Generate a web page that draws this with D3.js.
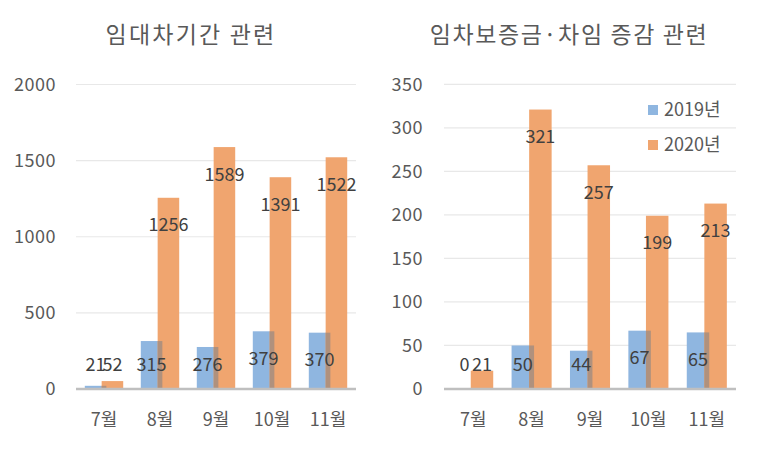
<!DOCTYPE html>
<html><head><meta charset="utf-8">
<script src="https://cdn.jsdelivr.net/npm/d3@7"></script>
<style>
body{margin:0;background:#fff;}
svg{display:block;font-family:"Noto Sans CJK KR","Noto Sans",sans-serif;}
</style></head>
<body>
<svg id="c" width="758" height="449"></svg>
<script>
const months = ["7월","8월","9월","10월","11월"];
const seriesNames = ["2019년","2020년"];
const leftTitle = "임대차기간 관련";
const leftS2019 = [21,315,276,379,370];
const leftS2020 = [52,1256,1589,1391,1522];
const leftTicks = [0,500,1000,1500,2000];
const rightTitle = "임차보증금·차임 증감 관련";
const rightS2019 = [0,50,44,67,65];
const rightS2020 = [21,321,257,199,213];
const rightTicks = [0,50,100,150,200,250,300,350];

const colors = ["#8fb6e0","#f0a56f"];
const overlapColor = "#b0917d";
const svg = d3.select("#c");

function panel(cfg){
  const g = svg.append("g");
  const x = d3.scaleBand().domain(months).range([cfg.x0,cfg.x1]).padding(0);
  const y = d3.scaleLinear().domain([0,cfg.max]).range([cfg.y0,cfg.y1]);
  g.selectAll(".grid").data(cfg.ticks.filter(t=>t>0)).join("line")
    .attr("x1",cfg.x0).attr("x2",cfg.x1)
    .attr("y1",d=>y(d)).attr("y2",d=>y(d))
    .attr("stroke","#e8e8e8").attr("stroke-width",1.2);
  g.selectAll(".tl").data(cfg.ticks).join("text")
    .attr("x",cfg.tickX).attr("y",d=>y(d)).attr("dy","0.36em")
    .attr("text-anchor","end").attr("font-size",18).attr("fill","#595959")
    .attr("letter-spacing",0.5)
    .text(d=>d);
  const step = x.step();
  const bw = step*0.385, ov = step*0.084;
  const groupW = 2*bw - ov;
  const bx = (m,i)=> x(m)+step/2 - groupW/2 + i*(bw-ov);
  const data = [cfg.s2019, cfg.s2020];
  data.forEach((arr,i)=>{
    g.selectAll(".b"+i).data(arr.map((v,k)=>({v,m:months[k]}))).join("rect")
      .attr("x",d=>bx(d.m,i)).attr("width",bw)
      .attr("y",d=>y(d.v)).attr("height",d=>y(0)-y(d.v))
      .attr("fill",colors[i]);
  });
  g.selectAll(".ov").data(months.map((m,k)=>({m,v:Math.min(cfg.s2019[k],cfg.s2020[k])}))).join("rect")
    .attr("x",d=>bx(d.m,1)).attr("width",ov)
    .attr("y",d=>y(d.v)).attr("height",d=>y(0)-y(d.v))
    .attr("fill",overlapColor);
  g.append("line").attr("x1",cfg.x0).attr("x2",cfg.x1)
    .attr("y1",y(0)).attr("y2",y(0)).attr("stroke","#bfbfbf").attr("stroke-width",2.6);
  data.forEach((arr,i)=>{
    g.selectAll(".l"+i).data(arr.map((v,k)=>({v,m:months[k]}))).join("text")
      .attr("x",d=>bx(d.m,i)+bw/2)
      .attr("y",d=>Math.min(y(d.v)+27, 365))
      .attr("dy","0.36em").attr("text-anchor","middle")
      .attr("font-size",18).attr("fill","#404040")
      .text(d=>d.v);
  });
  g.selectAll(".cl").data(months).join("text")
    .attr("x",d=>x(d)+step/2).attr("y",420).attr("dy","0.36em")
    .attr("text-anchor","middle").attr("font-size",18).attr("fill","#595959")
    .text(d=>d);
  g.append("text").attr("x",cfg.titleX).attr("y",35).attr("dy","0.36em")
    .attr("text-anchor","middle").attr("font-size",23).attr("fill","#595959")
    .attr("letter-spacing",cfg.ls)
    .text(cfg.title);
  return {x,y};
}

panel({x0:76,x1:356,y0:389,y1:84.5,max:2000,ticks:leftTicks,tickX:56,
  s2019:leftS2019,s2020:leftS2020,title:leftTitle,titleX:191,ls:2.2});
panel({x0:444,x1:736,y0:389,y1:84.3,max:350,ticks:rightTicks,tickX:423,
  s2019:rightS2019,s2020:rightS2020,title:rightTitle,titleX:569,ls:1.6});

const leg = svg.append("g");
seriesNames.forEach((n,i)=>{
  const cy = 110 + i*35;
  leg.append("rect").attr("x",648).attr("y",cy-5).attr("width",10).attr("height",10).attr("fill",colors[i]);
  leg.append("text").attr("x",664).attr("y",cy).attr("dy","0.36em")
    .attr("font-size",18).attr("fill","#595959").text(n);
});
</script>
</body></html>
